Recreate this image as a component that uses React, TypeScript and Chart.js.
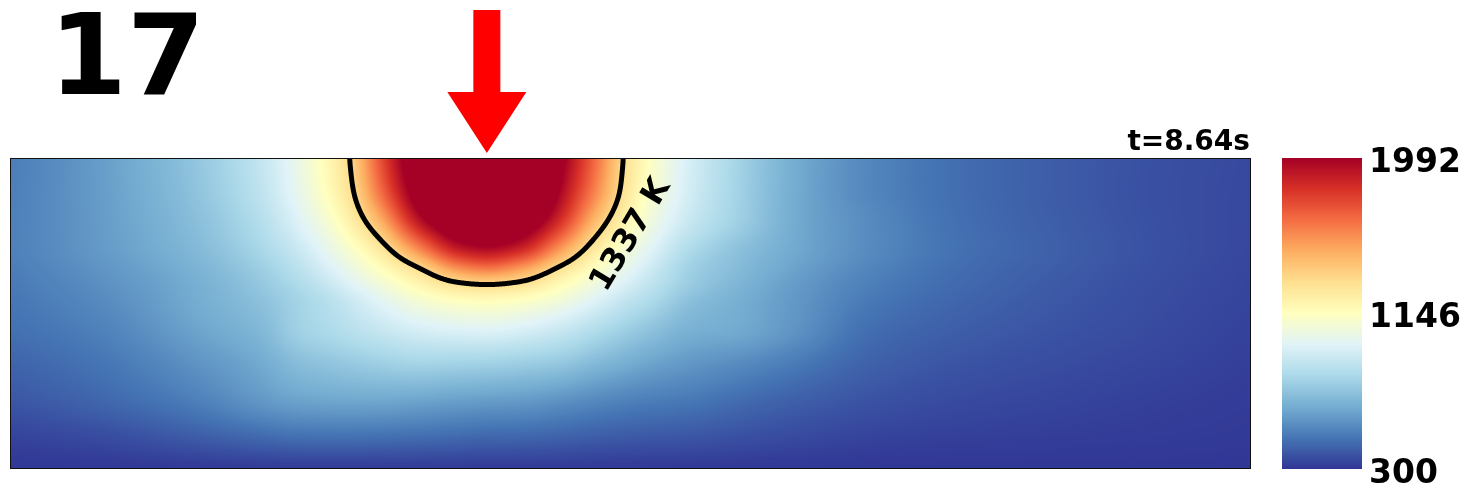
import React, { useEffect, useRef } from "react";
import { Chart, registerables } from "chart.js";

Chart.register(...registerables);

// ---- text ----
const FRAME_LABEL = "17";
const TIME_LABEL = "t=8.64s";
const CONTOUR_LABEL = "1337 K";

// ---- grid nodes: position along the surface (mm) and depth (mm) ----
const xNodes = [0, 0.29, 0.612, 0.806, 0.935, 1.031, 1.096, 1.193, 1.322, 1.45, 1.537, 1.644, 1.773, 1.886, 1.976, 2.063, 2.192, 2.353, 2.546, 2.772, 3.03, 3.352, 3.674, 4.0];
const depthNodes = [0, 0.103, 0.199, 0.296, 0.36, 0.402, 0.457, 0.553, 0.65, 0.778, 0.891, 1.0];

// ---- temperature (K) read along each depth row ----
const tDepth000 = [490, 590, 740, 884, 1045, 1200, 1337, 1735, 2210, 2600, 2700, 2535, 2055, 1668, 1337, 1140, 945, 782, 630, 522, 455, 405, 372, 350];
const tDepth103 = [495, 588, 730, 870, 1026, 1175, 1304, 1655, 2130, 2520, 2540, 2440, 1983, 1601, 1308, 1116, 934, 777, 627, 520, 455, 405, 370, 348];
const tDepth199 = [498, 585, 712, 839, 981, 1108, 1227, 1474, 1945, 2217, 2280, 2177, 1842, 1448, 1226, 1065, 900, 770, 625, 535, 460, 408, 372, 347];
const tDepth296 = [500, 580, 690, 800, 910, 1022, 1104, 1260, 1580, 1898, 1950, 1864, 1530, 1252, 1096, 982, 820, 710, 620, 535, 465, 415, 375, 345];
const tDepth360 = [489, 561, 665, 760, 860, 959, 1030, 1144, 1314, 1540, 1605, 1505, 1292, 1134, 1021, 917, 770, 688, 600, 514, 451, 406, 370, 341];
const tDepth402 = [481, 549, 650, 740, 827, 911, 980, 1075, 1211, 1325, 1350, 1315, 1180, 1060, 969, 879, 760, 670, 580, 500, 445, 400, 366, 339];
const tDepth457 = [472, 533, 643, 715, 790, 849, 906, 988, 1095, 1150, 1165, 1140, 1073, 975, 888, 822, 710, 645, 569, 482, 431, 393, 362, 336];
const tDepth553 = [455, 505, 615, 680, 780, 820, 850, 895, 945, 970, 977, 955, 900, 830, 772, 720, 655, 630, 555, 450, 410, 380, 355, 330];
const tDepth650 = [425, 473, 568, 634, 709, 736, 755, 780, 805, 800, 795, 780, 754, 700, 660, 623, 580, 545, 488, 420, 386, 363, 343, 324];
const tDepth778 = [385, 430, 505, 575, 612, 620, 625, 625, 615, 600, 592, 585, 560, 530, 510, 495, 480, 445, 410, 378, 355, 340, 327, 315];
const tDepth891 = [336, 360, 410, 445, 464, 466, 466, 464, 456, 446, 437, 436, 424, 411, 402, 396, 389, 373, 355, 337, 328, 322, 316, 310];
const tDepth1000 = [300, 300, 300, 300, 300, 300, 300, 300, 300, 300, 300, 300, 300, 300, 300, 300, 300, 300, 300, 300, 300, 300, 300, 300];

const temperatureRows = [tDepth000, tDepth103, tDepth199, tDepth296, tDepth360, tDepth402, tDepth457, tDepth553, tDepth650, tDepth778, tDepth891, tDepth1000];

const colorbarTicks = [300, 1146, 1992];
const T_MIN = 300;
const T_MAX = 1992;
const CONTOUR_LEVEL = 1337;
const SOURCE_X = 1.537; // mm, laser position
const CONTOUR_LABEL_X = 2.002;
const CONTOUR_LABEL_DEPTH = 0.248;

const RDYLBU_R = ["#313695", "#4575b4", "#74add1", "#abd9e9", "#e0f3f8", "#ffffbf", "#fee090", "#fdae61", "#f46d43", "#d73027", "#a50026"];
const anchors = RDYLBU_R.map((h) => [parseInt(h.slice(1, 3), 16), parseInt(h.slice(3, 5), 16), parseInt(h.slice(5, 7), 16)]);

function cmap(v: number): [number, number, number] {
  let t = (v - T_MIN) / (T_MAX - T_MIN);
  if (t < 0) t = 0;
  if (t > 1) t = 1;
  const s = t * (anchors.length - 1);
  const k = Math.min(Math.floor(s), anchors.length - 2);
  const f = s - k;
  const a = anchors[k], b = anchors[k + 1];
  return [a[0] + (b[0] - a[0]) * f, a[1] + (b[1] - a[1]) * f, a[2] + (b[2] - a[2]) * f];
}

function pchip(xs: number[], ys: number[]) {
  const n = xs.length;
  const h: number[] = [];
  const d: number[] = [];
  for (let i = 0; i < n - 1; i++) {
    h.push(xs[i + 1] - xs[i]);
    d.push((ys[i + 1] - ys[i]) / (xs[i + 1] - xs[i]));
  }
  const m: number[] = new Array(n).fill(0);
  m[0] = d[0];
  m[n - 1] = d[n - 2];
  for (let i = 1; i < n - 1; i++) {
    if (d[i - 1] * d[i] <= 0) m[i] = 0;
    else {
      const w1 = 2 * h[i] + h[i - 1];
      const w2 = h[i] + 2 * h[i - 1];
      m[i] = (w1 + w2) / (w1 / d[i - 1] + w2 / d[i]);
    }
  }
  return (x: number) => {
    if (x <= xs[0]) return ys[0];
    if (x >= xs[n - 1]) return ys[n - 1];
    let lo = 0, hi = n - 1;
    while (hi - lo > 1) {
      const mid = (lo + hi) >> 1;
      if (xs[mid] > x) hi = mid; else lo = mid;
    }
    const hh = h[lo];
    const t = (x - xs[lo]) / hh, t2 = t * t, t3 = t2 * t;
    return (2 * t3 - 3 * t2 + 1) * ys[lo] + (t3 - 2 * t2 + t) * hh * m[lo] + (-2 * t3 + 3 * t2) * ys[lo + 1] + (t3 - t2) * hh * m[lo + 1];
  };
}

// display smoothing of the interpolated image (like an image filter), clamped at the edges
function boxBlur(src: Float32Array, W: number, H: number, r: number) {
  const tmp = new Float32Array(W * H);
  const n = 2 * r + 1;
  const cl = (v: number, hi: number) => (v < 0 ? 0 : v > hi ? hi : v);
  for (let j = 0; j < H; j++) {
    const row = j * W;
    let sum = 0;
    for (let k = -r; k <= r; k++) sum += src[row + cl(k, W - 1)];
    for (let i = 0; i < W; i++) {
      tmp[row + i] = sum / n;
      sum += src[row + cl(i + r + 1, W - 1)] - src[row + cl(i - r, W - 1)];
    }
  }
  for (let i = 0; i < W; i++) {
    let sum = 0;
    for (let k = -r; k <= r; k++) sum += tmp[cl(k, H - 1) * W + i];
    for (let j = 0; j < H; j++) {
      src[j * W + i] = sum / n;
      sum += tmp[cl(j + r + 1, H - 1) * W + i] - tmp[cl(j - r, H - 1) * W + i];
    }
  }
}

function buildField(chart: any) {
  const a = chart.chartArea;
  const xs = chart.scales.x, ys = chart.scales.y;
  const W = Math.round(a.right - a.left);
  const H = Math.round(a.bottom - a.top);
  const colX = new Float64Array(W);
  for (let i = 0; i < W; i++) colX[i] = xs.getValueForPixel(a.left + i + 0.5);
  const rowD = new Float64Array(H);
  for (let j = 0; j < H; j++) rowD[j] = ys.getValueForPixel(a.top + j + 0.5);
  const fineRows = temperatureRows.map((r) => {
    const f = pchip(xNodes, r);
    const out = new Float64Array(W);
    for (let i = 0; i < W; i++) out[i] = f(colX[i]);
    return out;
  });
  const field = new Float32Array(W * H);
  for (let i = 0; i < W; i++) {
    const col = fineRows.map((r) => r[i]);
    const f = pchip(depthNodes, col);
    for (let j = 0; j < H; j++) field[j * W + i] = f(rowD[j]);
  }
  for (let p = 0; p < 3; p++) boxBlur(field, W, H, 5);

  const off = document.createElement("canvas");
  off.width = W;
  off.height = H;
  const octx = off.getContext("2d")!;
  const img = octx.createImageData(W, H);
  for (let k = 0; k < W * H; k++) {
    const c = cmap(field[k]);
    img.data[4 * k] = c[0];
    img.data[4 * k + 1] = c[1];
    img.data[4 * k + 2] = c[2];
    img.data[4 * k + 3] = 255;
  }
  octx.putImageData(img, 0, 0);

  // marching squares for the contour level
  const segs: number[] = [];
  const L = CONTOUR_LEVEL;
  for (let j = 0; j < H - 1; j++) {
    for (let i = 0; i < W - 1; i++) {
      const v0 = field[j * W + i], v1 = field[j * W + i + 1];
      const v2 = field[(j + 1) * W + i + 1], v3 = field[(j + 1) * W + i];
      const pts: number[] = [];
      if ((v0 - L) * (v1 - L) < 0) { const t = (L - v0) / (v1 - v0); pts.push(i + t, j); }
      if ((v1 - L) * (v2 - L) < 0) { const t = (L - v1) / (v2 - v1); pts.push(i + 1, j + t); }
      if ((v2 - L) * (v3 - L) < 0) { const t = (L - v2) / (v3 - v2); pts.push(i + 1 - t, j + 1); }
      if ((v3 - L) * (v0 - L) < 0) { const t = (L - v3) / (v0 - v3); pts.push(i, j + 1 - t); }
      for (let p = 0; p + 3 < pts.length; p += 4) {
        segs.push(a.left + pts[p] + 0.5, a.top + pts[p + 1] + 0.5, a.left + pts[p + 2] + 0.5, a.top + pts[p + 3] + 0.5);
      }
    }
  }
  return { W, H, left: a.left, top: a.top, canvas: off, segs };
}

const heatPlugin = {
  id: "heatField",
  beforeDatasetsDraw(chart: any) {
    const { ctx, chartArea: a } = chart;
    let cache = chart.$heat;
    const W = Math.round(a.right - a.left), H = Math.round(a.bottom - a.top);
    if (!cache || cache.W !== W || cache.H !== H || cache.left !== a.left || cache.top !== a.top) {
      cache = buildField(chart);
      chart.$heat = cache;
    }
    ctx.save();
    ctx.drawImage(cache.canvas, a.left, a.top);
    // contour line
    ctx.beginPath();
    ctx.rect(a.left, a.top, W, H);
    ctx.clip();
    ctx.beginPath();
    const s = cache.segs;
    for (let k = 0; k < s.length; k += 4) {
      ctx.moveTo(s[k], s[k + 1]);
      ctx.lineTo(s[k + 2], s[k + 3]);
    }
    ctx.strokeStyle = "#000";
    ctx.lineWidth = 5;
    ctx.lineCap = "round";
    ctx.lineJoin = "round";
    ctx.stroke();
    ctx.restore();

    // frame
    ctx.save();
    ctx.strokeStyle = "#111";
    ctx.lineWidth = 1;
    ctx.strokeRect(a.left + 0.5, a.top + 0.5, W - 1, H - 1);
    ctx.restore();

    // colorbar
    const cb = chart.scales.cbar;
    const top = cb.getPixelForValue(T_MAX);
    const bot = cb.getPixelForValue(T_MIN);
    const x0 = a.right + 31;
    for (let py = Math.floor(top); py < Math.ceil(bot); py++) {
      const c = cmap(cb.getValueForPixel(py + 0.5));
      ctx.fillStyle = `rgb(${Math.round(c[0])},${Math.round(c[1])},${Math.round(c[2])})`;
      ctx.fillRect(x0, py, 80, 1);
    }
  },
  afterDraw(chart: any) {
    const { ctx, chartArea: a, scales } = chart;
    ctx.save();
    // frame label
    ctx.fillStyle = "#000";
    ctx.font = 'bold 112px "DejaVu Sans"';
    ctx.textAlign = "left";
    ctx.textBaseline = "alphabetic";
    ctx.fillText(FRAME_LABEL, 49, 94);
    // time label
    ctx.font = 'bold 28px "DejaVu Sans"';
    ctx.textAlign = "right";
    ctx.fillText(TIME_LABEL, a.right - 1, 150);
    // contour label
    ctx.save();
    ctx.translate(scales.x.getPixelForValue(CONTOUR_LABEL_X), scales.y.getPixelForValue(CONTOUR_LABEL_DEPTH));
    ctx.rotate((-59 * Math.PI) / 180);
    ctx.font = 'bold 32px "DejaVu Sans"';
    ctx.textAlign = "center";
    ctx.textBaseline = "middle";
    ctx.fillText(CONTOUR_LABEL, 0, 0);
    ctx.restore();
    // laser arrow
    const cx = scales.x.getPixelForValue(SOURCE_X);
    const tipY = a.top - 5;
    const headTop = tipY - 61;
    ctx.fillStyle = "#ff0000";
    ctx.beginPath();
    ctx.moveTo(cx - 13.5, 10);
    ctx.lineTo(cx + 13.5, 10);
    ctx.lineTo(cx + 13.5, headTop);
    ctx.lineTo(cx + 39.5, headTop);
    ctx.lineTo(cx, tipY);
    ctx.lineTo(cx - 39.5, headTop);
    ctx.lineTo(cx - 13.5, headTop);
    ctx.closePath();
    ctx.fill();
    ctx.restore();
  },
};

export default function App() {
  const ref = useRef<HTMLCanvasElement>(null);
  useEffect(() => {
    const chart = new Chart(ref.current!, {
      type: "scatter",
      data: { datasets: [] },
      options: {
        responsive: false,
        animation: false,
        events: [],
        layout: { padding: { left: 10, top: 158, right: 0, bottom: 31 } },
        plugins: { legend: { display: false }, tooltip: { enabled: false }, title: { display: false } },
        scales: {
          x: { type: "linear", min: 0, max: 4, display: false },
          y: { type: "linear", min: 0, max: 1, reverse: true, display: false },
          cbar: {
            type: "linear",
            position: "right",
            min: T_MIN,
            max: T_MAX,
            grid: { display: false, drawTicks: false },
            border: { display: false },
            afterBuildTicks: (s: any) => {
              s.ticks = colorbarTicks.map((v) => ({ value: v }));
            },
            afterFit: (s: any) => {
              s.width = 233;
              s.paddingTop = 0;
              s.paddingBottom = 0;
            },
            ticks: {
              padding: 118,
              labelOffset: 5,
              color: "#000",
              autoSkip: false,
              font: { family: "DejaVu Sans", size: 33, weight: "bold" },
              callback: (v: any) => String(v),
            },
          },
        },
      } as any,
      plugins: [heatPlugin as any],
    });
    return () => chart.destroy();
  }, []);
  return (
    <div style={{ position: "fixed", left: 0, top: 0, width: 1484, height: 500, background: "#fff" }}>
      <canvas ref={ref} width={1484} height={500} style={{ display: "block", width: 1484, height: 500 }} />
    </div>
  );
}
